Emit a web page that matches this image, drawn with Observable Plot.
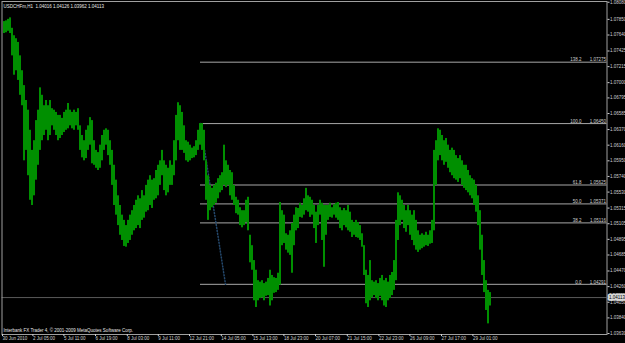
<!DOCTYPE html>
<html><head><meta charset="utf-8">
<script src="https://cdn.jsdelivr.net/npm/d3@7"></script>
<script src="https://cdn.jsdelivr.net/npm/@observablehq/plot@0.6"></script>
<style>html,body{margin:0;padding:0;background:#000;overflow:hidden;}</style>
</head><body><div id="chart"></div>
<script>
const symbol = "USDCHFm,H1";
const ohlc = [1.04016, 1.04126, 1.03962, 1.04113];
const highs = [
1.0782,1.0783,1.0785,1.0787,1.0773,1.0763,1.0759,1.0754,1.0736,1.0716,
1.0696,1.0676,1.0663,1.0636,1.0609,1.0622,1.0649,1.0663,1.0693,1.0683,
1.0669,1.0676,1.0669,1.0676,1.0665,1.0663,1.0660,1.0656,1.0656,1.0652,
1.0660,1.0663,1.0672,1.0663,1.0660,1.0663,1.0660,1.0665,1.0642,1.0629,
1.0622,1.0636,1.0642,1.0653,1.0649,1.0622,1.0609,1.0606,1.0616,1.0629,
1.0636,1.0638,1.0636,1.0622,1.0609,1.0589,1.0569,1.0548,1.0535,1.0522,
1.0515,1.0508,1.0515,1.0522,1.0528,1.0535,1.0542,1.0548,1.0544,1.0555,
1.0548,1.0562,1.0569,1.0575,1.0569,1.0571,1.0582,1.0589,1.0595,1.0609,
1.0595,1.0589,1.0585,1.0595,1.0589,1.0622,1.0656,1.0673,1.0669,1.0660,
1.0642,1.0622,1.0620,1.0616,1.0612,1.0614,1.0622,1.0636,1.0645,1.0645,
1.0636,1.0595,1.0575,1.0562,1.0558,1.0562,1.0565,1.0571,1.0575,1.0579,
1.0616,1.0595,1.0589,1.0582,1.0579,1.0562,1.0546,1.0542,1.0532,1.0528,
1.0528,1.0542,1.0546,1.0495,1.0481,1.0461,1.0448,1.0434,1.0432,1.0434,
1.0430,1.0432,1.0437,1.0448,1.0441,1.0438,1.0437,1.0444,1.0539,1.0528,
1.0522,1.0497,1.0495,1.0501,1.0511,1.0522,1.0532,1.0531,1.0538,1.0535,
1.0544,1.0558,1.0548,1.0546,1.0542,1.0535,1.0526,1.0535,1.0542,1.0538,
1.0535,1.0535,1.0535,1.0538,1.0532,1.0536,1.0538,1.0539,1.0532,1.0528,
1.0531,1.0528,1.0535,1.0526,1.0515,1.0512,1.0515,1.0512,1.0508,1.0497,
1.0481,1.0448,1.0441,1.0461,1.0434,1.0432,1.0434,1.0430,1.0437,1.0441,
1.0434,1.0437,1.0432,1.0441,1.0445,1.0461,1.0515,1.0552,1.0548,1.0542,
1.0535,1.0528,1.0535,1.0528,1.0522,1.0528,1.0515,1.0501,1.0495,1.0497,
1.0495,1.0499,1.0495,1.0501,1.0515,1.0609,1.0622,1.0638,1.0636,1.0629,
1.0622,1.0625,1.0616,1.0609,1.0612,1.0609,1.0602,1.0598,1.0602,1.0595,
1.0589,1.0589,1.0582,1.0575,1.0571,1.0569,1.0562,1.0548,1.0528,1.0495,
1.0461,1.0434,1.0421,1.0418
];
const lows = [
1.0766,1.0767,1.0769,1.0766,1.0736,1.0710,1.0716,1.0703,1.0683,1.0669,
1.0595,1.0609,1.0575,1.0542,1.0535,1.0548,1.0569,1.0589,1.0609,1.0622,
1.0629,1.0636,1.0622,1.0629,1.0642,1.0636,1.0629,1.0622,1.0625,1.0629,
1.0633,1.0636,1.0638,1.0642,1.0638,1.0636,1.0642,1.0636,1.0609,1.0599,
1.0595,1.0598,1.0609,1.0616,1.0591,1.0589,1.0585,1.0582,1.0585,1.0595,
1.0609,1.0616,1.0602,1.0589,1.0562,1.0535,1.0522,1.0508,1.0495,1.0488,
1.0480,1.0479,1.0484,1.0488,1.0495,1.0501,1.0504,1.0508,1.0504,1.0515,
1.0518,1.0526,1.0528,1.0535,1.0531,1.0542,1.0544,1.0548,1.0562,1.0575,
1.0555,1.0548,1.0552,1.0562,1.0562,1.0575,1.0595,1.0622,1.0609,1.0609,
1.0605,1.0595,1.0593,1.0595,1.0598,1.0599,1.0602,1.0609,1.0616,1.0609,
1.0595,1.0542,1.0515,1.0528,1.0532,1.0535,1.0538,1.0544,1.0552,1.0555,
1.0562,1.0559,1.0562,1.0548,1.0542,1.0535,1.0524,1.0522,1.0508,1.0505,
1.0508,1.0512,1.0501,1.0458,1.0448,1.0407,1.0398,1.0407,1.0410,1.0411,
1.0407,1.0413,1.0414,1.0400,1.0407,1.0417,1.0418,1.0421,1.0428,1.0481,
1.0484,1.0475,1.0471,1.0468,1.0444,1.0481,1.0501,1.0504,1.0519,1.0518,
1.0522,1.0528,1.0526,1.0519,1.0522,1.0504,1.0484,1.0508,1.0522,1.0488,
1.0452,1.0495,1.0515,1.0519,1.0518,1.0522,1.0518,1.0515,1.0504,1.0501,
1.0508,1.0505,1.0501,1.0499,1.0492,1.0495,1.0492,1.0491,1.0488,1.0479,
1.0441,1.0403,1.0398,1.0407,1.0411,1.0414,1.0410,1.0407,1.0413,1.0407,
1.0400,1.0398,1.0407,1.0410,1.0414,1.0421,1.0434,1.0488,1.0508,1.0515,
1.0504,1.0499,1.0508,1.0495,1.0488,1.0481,1.0475,1.0472,1.0475,1.0477,
1.0479,1.0481,1.0480,1.0483,1.0484,1.0501,1.0562,1.0595,1.0602,1.0595,
1.0589,1.0593,1.0585,1.0579,1.0575,1.0571,1.0569,1.0566,1.0571,1.0562,
1.0558,1.0555,1.0552,1.0548,1.0544,1.0535,1.0526,1.0508,1.0475,1.0441,
1.0418,1.0394,1.0376,1.0400
];
const priceTicks = [1.08080,1.07850,1.07640,1.07425,1.07215,1.07000,1.06795,1.06585,1.06370,1.06160,1.05950,1.05740,1.05530,1.05315,1.05105,1.04895,1.04685,1.04470,1.04260,1.04050,1.03840,1.03630];
const timeSlots = [-0.5,14.7,30.2,46,61.9,77.4,93,108.9,124.7,140.2,156,171.9,187.7,203.2,219,234.7];
const timeLabels = ["30 Jun 2010","2 Jul 05:00","5 Jul 11:00","6 Jul 19:00","8 Jul 03:00","9 Jul 11:00","12 Jul 21:00","14 Jul 05:00","15 Jul 13:00","18 Jul 23:00","20 Jul 07:00","21 Jul 15:00","22 Jul 23:00","26 Jul 09:00","27 Jul 17:00","29 Jul 01:00"];
const fibLevels = ["0.0","38.2","50.0","61.8","100.0","138.2"];
const fibPrices = [1.04291,1.05116,1.05371,1.05625,1.06450,1.07275];
const fibStartSlot = 98.5;
const fibLowSlot = 111;
const copyright = "Interbank FX Trader 4, \u00a9 2001-2009 MetaQuotes Software Corp.";

const bars = highs.map((h, i) => ({i, high: h, low: lows[i]}));
const fib = fibLevels.map((l, i) => ({level: l, price: fibPrices[i]}));
const xEnd = 301.75;
const font = 4.5;
const fmt5 = d3.format(".5f");
const labelMap = new Map(timeSlots.map((s, i) => [s, timeLabels[i]]));

const chart = Plot.plot({
  width: 625, height: 343,
  marginLeft: 1.5, marginRight: 18.5, marginTop: 1, marginBottom: 9,
  style: "background:#000;color:#d0d0d0;font-family:'Liberation Sans',Arial,sans-serif;",
  x: {domain: [-0.5, xEnd], range: [2, 606.5]},
  y: {domain: [1.03617, 1.0809], range: [334, 1]},
  marks: [
    Plot.ruleY([ohlc[3]], {stroke: "#5a5a5a"}),
    Plot.ruleY(fib, {y: "price", x1: fibStartSlot, x2: xEnd, stroke: "#a8a8a8"}),
    Plot.line([{x: fibStartSlot, y: fibPrices[4]}, {x: fibLowSlot, y: fibPrices[0]}],
      {x: "x", y: "y", stroke: "#24486c", strokeDasharray: "1,2"}),
    Plot.rect(bars, {x1: "i", x2: d => d.i + 1, y1: "low", y2: "high", fill: "#008f00"}),
    Plot.text(fib, {y: "price", frameAnchor: "right", text: "level", textAnchor: "end", lineAnchor: "bottom", dx: -25.5, dy: -0.8, fill: "#d0d0d0", fontSize: font}),
    Plot.text(fib, {y: "price", frameAnchor: "right", text: d => fmt5(d.price), textAnchor: "end", lineAnchor: "bottom", dx: -1, dy: -0.8, fill: "#d0d0d0", fontSize: font}),
    Plot.frame({stroke: "#a0a0a0"}),
    Plot.axisY({anchor: "right", ticks: priceTicks, tickFormat: fmt5, tickSize: 2, tickPadding: 1, fontSize: font, color: "#d0d0d0", label: null}),
    Plot.axisX({anchor: "bottom", ticks: timeSlots, tickFormat: d => labelMap.get(d), tickSize: 2, tickPadding: 0.5, textAnchor: "start", fontSize: font, color: "#d0d0d0", label: null}),
    Plot.text([`${symbol}  ${ohlc.map(fmt5).join(" ")}`], {frameAnchor: "top-left", dx: 1.5, dy: 5, textAnchor: "start", lineAnchor: "middle", fill: "#e8e8e8", fontSize: font}),
    Plot.text([copyright], {frameAnchor: "bottom-left", dx: 1.5, dy: -4, textAnchor: "start", lineAnchor: "middle", fill: "#e8e8e8", fontSize: font}),
    Plot.text([ohlc[3]], {y: d => d, frameAnchor: "right", dx: 2, text: d => fmt5(d), textAnchor: "start", fill: "#000", stroke: "#d8d8d8", strokeWidth: 3.5, paintOrder: "stroke", fontSize: font})
  ]
});
document.getElementById("chart").append(chart);
</script>
</body></html>
